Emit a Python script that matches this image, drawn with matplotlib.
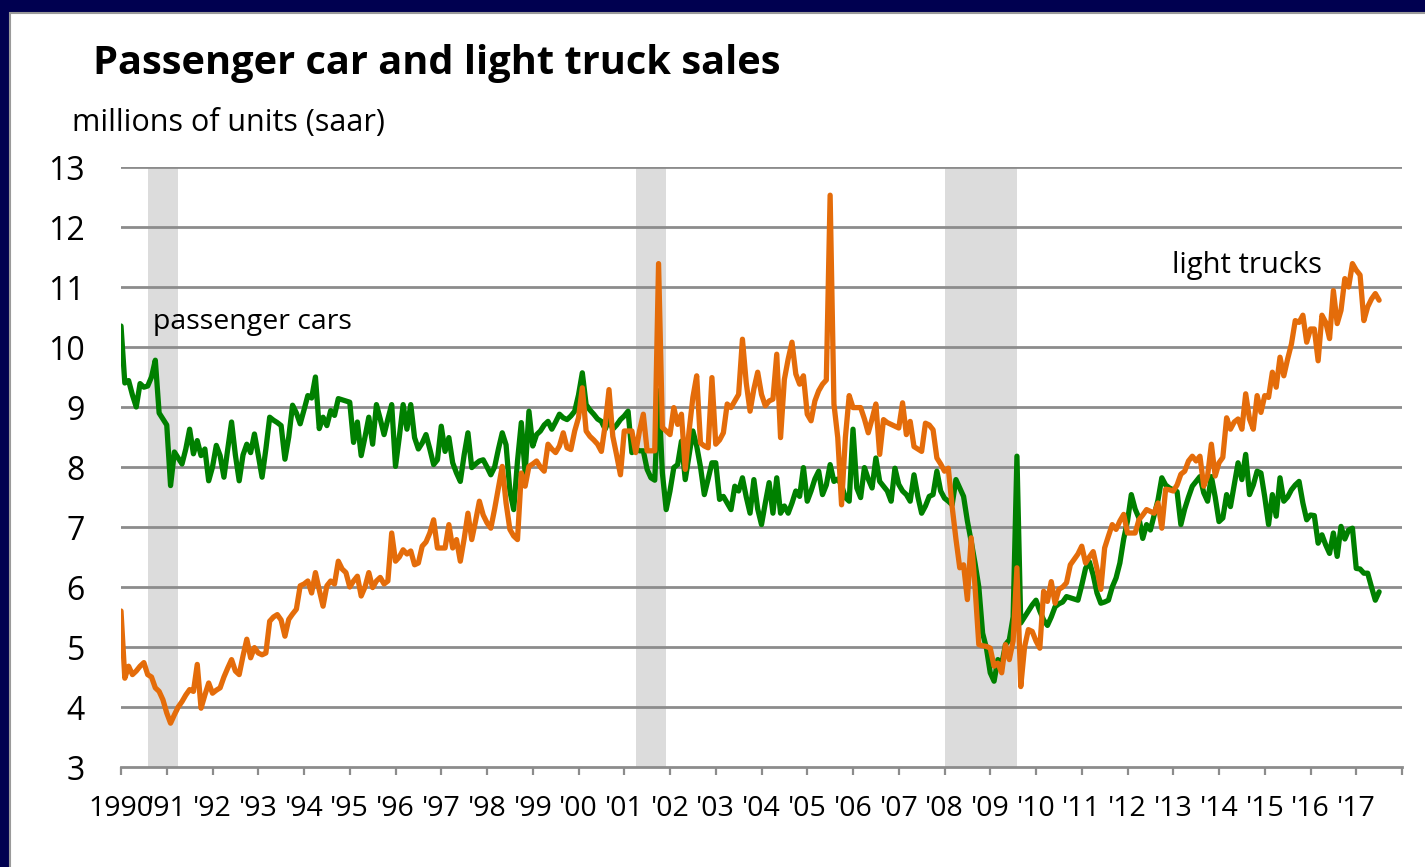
import matplotlib
matplotlib.use("Agg")
import matplotlib.pyplot as plt
from matplotlib.patches import Rectangle
import numpy as np

# ---------------- data (monthly, Jan 1990 - Jul 2017, millions of units saar) ----------------
start_year = 1990
passenger_cars = [
    10.35, 9.4, 9.44, 9.2, 9.0, 9.39, 9.33, 9.35, 9.5, 9.78, 8.9, 8.8,      # 1990
    8.7, 7.69, 8.25, 8.15, 8.05, 8.3, 8.63, 8.22, 8.44, 8.19, 8.3, 7.77,    # 1991
    8.0, 8.36, 8.19, 7.83, 8.3, 8.75, 8.2, 7.77, 8.2, 8.38, 8.24, 8.55,     # 1992
    8.2, 7.83, 8.3, 8.83, 8.78, 8.74, 8.69, 8.13, 8.5, 9.03, 8.9, 8.72,     # 1993
    8.95, 9.19, 9.15, 9.5, 8.64, 8.83, 8.69, 8.94, 8.86, 9.14, 9.12, 9.1,   # 1994
    9.08, 8.41, 8.75, 8.19, 8.5, 8.83, 8.38, 9.04, 8.8, 8.54, 8.8, 9.04,    # 1995
    8.01, 8.5, 9.04, 8.63, 9.04, 8.49, 8.3, 8.4, 8.54, 8.3, 8.04, 8.12,     # 1996
    8.68, 8.26, 8.49, 8.07, 7.9, 7.76, 8.2, 8.57, 7.99, 8.05, 8.1, 8.12,    # 1997
    8.0, 7.87, 8.0, 8.3, 8.57, 8.37, 7.6, 7.29, 8.1, 8.74, 7.9, 8.93,       # 1998
    8.35, 8.54, 8.6, 8.7, 8.76, 8.63, 8.75, 8.88, 8.82, 8.79, 8.85, 8.93,   # 1999
    9.2, 9.57, 9.04, 8.95, 8.88, 8.8, 8.76, 8.63, 8.79, 8.63, 8.7, 8.79,    # 2000
    8.85, 8.93, 8.24, 8.3, 8.27, 8.27, 7.96, 7.82, 7.78, 9.27, 7.9, 7.29,   # 2001
    7.6, 7.99, 8.04, 8.43, 7.79, 8.2, 8.6, 8.35, 8.0, 7.54, 7.8, 8.07,      # 2002
    8.07, 7.46, 7.51, 7.4, 7.29, 7.68, 7.6, 7.82, 7.5, 7.23, 7.79, 7.3,     # 2003
    7.04, 7.4, 7.74, 7.23, 7.82, 7.23, 7.35, 7.23, 7.4, 7.6, 7.51, 7.99,    # 2004
    7.43, 7.6, 7.8, 7.93, 7.54, 7.7, 8.04, 7.76, 7.8, 7.7, 7.49, 7.43,      # 2005
    8.63, 7.65, 7.49, 7.99, 7.8, 7.65, 8.15, 7.76, 7.68, 7.6, 7.43, 7.98,   # 2006
    7.71, 7.6, 7.54, 7.43, 7.87, 7.51, 7.23, 7.35, 7.51, 7.54, 7.93, 7.6,   # 2007
    7.48, 7.43, 7.37, 7.79, 7.65, 7.51, 7.1, 6.76, 6.4, 6.0, 5.23, 4.98,    # 2008
    4.57, 4.43, 4.79, 4.71, 5.04, 5.12, 5.5, 8.18, 5.4, 5.5, 5.6, 5.7,      # 2009
    5.78, 5.6, 5.45, 5.36, 5.5, 5.67, 5.72, 5.75, 5.84, 5.82, 5.8, 5.78,    # 2010
    6.03, 6.31, 6.42, 6.2, 5.9, 5.73, 5.75, 5.78, 6.0, 6.15, 6.4, 6.8,      # 2011
    7.1, 7.54, 7.3, 7.15, 6.81, 7.04, 6.95, 7.2, 7.45, 7.82, 7.7, 7.65,     # 2012
    7.62, 7.59, 7.04, 7.3, 7.5, 7.68, 7.76, 7.84, 7.57, 7.43, 7.84, 7.5,    # 2013
    7.09, 7.15, 7.54, 7.34, 7.7, 8.07, 7.79, 8.21, 7.54, 7.7, 7.93, 7.9,    # 2014
    7.5, 7.04, 7.54, 7.18, 7.82, 7.43, 7.5, 7.62, 7.7, 7.76, 7.4, 7.12,     # 2015
    7.2, 7.19, 6.73, 6.87, 6.7, 6.56, 6.9, 6.51, 7.01, 6.8, 6.95, 6.98,     # 2016
    6.31, 6.3, 6.23, 6.23, 6.0, 5.78, 5.92,                                 # 2017
]
light_trucks = [
    5.6, 4.48, 4.68, 4.54, 4.6, 4.68, 4.74, 4.54, 4.5, 4.32, 4.26, 4.12,    # 1990
    3.9, 3.73, 3.87, 4.0, 4.09, 4.2, 4.29, 4.26, 4.71, 3.98, 4.2, 4.4,      # 1991
    4.23, 4.28, 4.32, 4.5, 4.65, 4.79, 4.6, 4.54, 4.85, 5.13, 4.82, 4.99,   # 1992
    4.9, 4.87, 4.9, 5.43, 5.5, 5.54, 5.45, 5.18, 5.46, 5.55, 5.63, 6.02,    # 1993
    6.05, 6.1, 5.9, 6.24, 5.95, 5.68, 6.02, 6.1, 6.05, 6.43, 6.3, 6.24,     # 1994
    6.0, 6.1, 6.18, 5.85, 6.0, 6.24, 5.99, 6.1, 6.16, 6.05, 6.1, 6.9,       # 1995
    6.43, 6.5, 6.62, 6.55, 6.6, 6.37, 6.4, 6.68, 6.75, 6.9, 7.12, 6.65,     # 1996
    6.65, 6.65, 7.04, 6.65, 6.79, 6.43, 6.8, 7.23, 6.79, 7.1, 7.43, 7.2,    # 1997
    7.07, 6.98, 7.3, 7.65, 8.01, 7.4, 6.96, 6.85, 6.79, 7.9, 7.68, 8.01,    # 1998
    8.05, 8.1, 8.0, 7.93, 8.38, 8.3, 8.24, 8.35, 8.57, 8.32, 8.29, 8.6,     # 1999
    8.82, 9.32, 8.6, 8.51, 8.45, 8.38, 8.26, 8.7, 9.29, 8.51, 8.2, 7.87,    # 2000
    8.6, 8.6, 8.6, 8.24, 8.6, 8.88, 8.27, 8.27, 8.27, 11.39, 8.66, 8.6,     # 2001
    8.54, 8.99, 8.71, 8.88, 7.96, 8.6, 9.16, 9.52, 8.4, 8.35, 8.32, 9.49,   # 2002
    8.38, 8.45, 8.57, 9.05, 8.99, 9.1, 9.21, 10.13, 9.4, 8.93, 9.3, 9.58,   # 2003
    9.21, 9.02, 9.1, 9.13, 9.88, 8.49, 9.46, 9.8, 10.08, 9.55, 9.38, 9.52,  # 2004
    8.88, 8.77, 9.1, 9.27, 9.38, 9.45, 12.53, 9.05, 8.49, 7.37, 8.49, 9.19, # 2005
    8.99, 8.99, 8.99, 8.8, 8.57, 8.8, 9.05, 8.21, 8.79, 8.74, 8.71, 8.68,   # 2006
    8.65, 9.07, 8.54, 8.76, 8.34, 8.3, 8.26, 8.73, 8.7, 8.62, 8.15, 8.05,   # 2007
    7.93, 7.98, 7.34, 6.8, 6.32, 6.37, 5.79, 6.82, 6.01, 5.04, 5.02, 5.01,  # 2008
    4.98, 4.68, 4.73, 4.57, 5.04, 4.79, 5.1, 6.32, 4.34, 5.0, 5.29, 5.26,   # 2009
    5.1, 4.98, 5.93, 5.76, 6.09, 5.73, 5.96, 6.0, 6.07, 6.37, 6.46, 6.55,   # 2010
    6.68, 6.4, 6.5, 6.59, 6.3, 5.96, 6.65, 6.85, 7.04, 6.96, 7.1, 7.21,     # 2011
    6.9, 6.9, 6.9, 7.12, 7.2, 7.29, 7.26, 7.23, 7.4, 6.98, 7.63, 7.62,      # 2012
    7.6, 7.7, 7.88, 7.93, 8.1, 8.18, 8.1, 8.18, 7.68, 7.85, 8.38, 7.85,     # 2013
    8.07, 8.16, 8.82, 8.63, 8.75, 8.8, 8.63, 9.22, 8.8, 8.63, 9.19, 8.91,   # 2014
    9.19, 9.16, 9.58, 9.33, 9.83, 9.52, 9.8, 10.05, 10.44, 10.41, 10.53, 10.08,  # 2015
    10.3, 10.3, 9.77, 10.53, 10.41, 10.14, 10.94, 10.39, 10.61, 11.14, 11.0, 11.39,  # 2016
    11.28, 11.2, 10.44, 10.67, 10.8, 10.89, 10.78,                          # 2017
]
# recessions: (start year, start month, end year, end month) shaded
recessions = [(1990, 8, 1991, 4), (2001, 4, 2001, 12), (2008, 1, 2009, 8)]
year_ticks = list(range(1990, 2019))
year_labels = ["1990"] + ["'%02d" % (y % 100) for y in range(1991, 2018)] + [""]
y_ticks = list(range(3, 14))

title = "Passenger car and light truck sales"
subtitle = "millions of units (saar)"

# ---------------- styling ----------------
W, H = 1425, 867
DPI = 100
fig = plt.figure(figsize=(W / DPI, H / DPI), dpi=DPI)
fig.patch.set_facecolor("#000050")

# white slide panel
panel = Rectangle((10 / W, -0.01), 1 - 10 / W + 0.01, 1 - 13 / H + 0.01, transform=fig.transFigure,
                  facecolor="white", edgecolor="#9a9a9a", linewidth=1.5, zorder=-10)
fig.add_artist(panel)

FONT = "Open Sans"
GREEN = "#008000"
ORANGE = "#E46C0A"
GRID = "#8c8c8c"

ax = fig.add_axes([121 / W, (H - 767) / H, (1402 - 121) / W, 600 / H])
ax.set_facecolor("none")
ax.set_zorder(1)

x = start_year + np.arange(len(passenger_cars)) / 12.0
xt = start_year + np.arange(len(light_trucks)) / 12.0

for (y0, m0, y1, m1) in recessions:
    ax.axvspan(y0 + (m0 - 1) / 12.0, y1 + (m1 - 1) / 12.0, color="#dcdcdc", lw=0, zorder=0)

for yv in y_ticks[1:]:
    ax.axhline(yv, color=GRID, lw=2.0, zorder=1)

ax.plot(x, passenger_cars, color=GREEN, lw=3.8, zorder=3, solid_joinstyle="round",
        solid_capstyle="round")
ax.plot(xt, light_trucks, color=ORANGE, lw=3.8, zorder=4, solid_joinstyle="round",
        solid_capstyle="round")

ax.set_xlim(1990, 2018)
ax.set_ylim(3, 13)
ax.set_xticks(year_ticks)
ax.set_xticklabels(year_labels, fontfamily=FONT, fontsize=20.5)
ax.set_yticks(y_ticks)
ax.set_yticklabels([str(v) for v in y_ticks], fontfamily=FONT, fontsize=23)
ax.tick_params(axis="x", direction="out", length=6, width=1.6, color=GRID, pad=14,
               labelcolor="black")
ax.tick_params(axis="y", length=0, pad=26, labelcolor="black")
for s in ["left", "right", "top"]:
    ax.spines[s].set_visible(False)
ax.spines["bottom"].set_color(GRID)
ax.spines["bottom"].set_linewidth(2.0)
ax.spines["bottom"].set_zorder(2)

ax.text(1990.70, 10.3, "passenger cars", fontfamily=FONT, fontsize=20.5, va="baseline",
        ha="left", color="black", zorder=5)
ax.text(2012.97, 11.23, "light trucks", fontfamily=FONT, fontsize=21, va="baseline",
        ha="left", color="black", zorder=5)

fig.text(93 / W, 1 - 74 / H, title, fontfamily=FONT, fontweight="bold", fontsize=28.6,
         va="baseline", ha="left", color="black")
fig.text(72 / W, 1 - 131 / H, subtitle, fontfamily=FONT, fontsize=22,
         va="baseline", ha="left", color="black")

fig.savefig("out.png", dpi=DPI, facecolor=fig.get_facecolor())
